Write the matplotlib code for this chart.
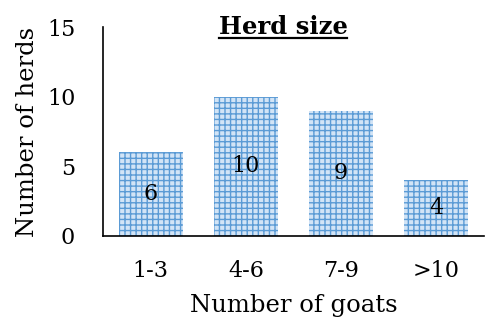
import matplotlib.pyplot as plt
from matplotlib.lines import Line2D

# Data
categories = ['1-3', '4-6', '7-9', '>10']
herds = [6, 10, 9, 4]

plt.rcParams.update({
    "font.family": ["DejaVu Serif"],
    "hatch.linewidth": 1.0,
})

fig = plt.figure(figsize=(4.86, 3.25), dpi=100)
ax = fig.add_axes([103 / 486, 1 - 236 / 325, (484 - 103) / 486, (236 - 27) / 325])

bars = ax.bar(range(len(categories)), herds, width=0.67,
              color='#d2e4f6', edgecolor='#5b9bd5', hatch='+++', linewidth=0)
ax.bar_label(bars, labels=[str(v) for v in herds], label_type='center',
             fontsize=16, color='black')

ax.set_xlim(-0.5, len(categories) - 0.5)
ax.set_ylim(0, 15)
ax.set_yticks([0, 5, 10, 15])
ax.set_xticks(range(len(categories)))
ax.set_xticklabels(categories)
ax.tick_params(axis='both', length=0, labelsize=16)
ax.tick_params(axis='y', pad=20)
ax.tick_params(axis='x', pad=17)

for s in ['top', 'right']:
    ax.spines[s].set_visible(False)
for s in ['left', 'bottom']:
    ax.spines[s].set_linewidth(1.2)

ax.set_xlabel('Number of goats', fontsize=17.5, labelpad=9)
ax.set_ylabel('Number of herds', fontsize=17.5, labelpad=6)

# Underlined bold title
title = fig.text(283 / 486, 1 - 27 / 325, 'Herd size', fontsize=17.5,
                 fontweight='bold', ha='center', va='center')
fig.canvas.draw()
bb = title.get_window_extent().transformed(fig.transFigure.inverted())
fig.add_artist(Line2D([bb.x0, bb.x1], [bb.y0 + 0.002, bb.y0 + 0.002],
                      transform=fig.transFigure, color='black', linewidth=1.6))

fig.savefig('out.png', dpi=100)
